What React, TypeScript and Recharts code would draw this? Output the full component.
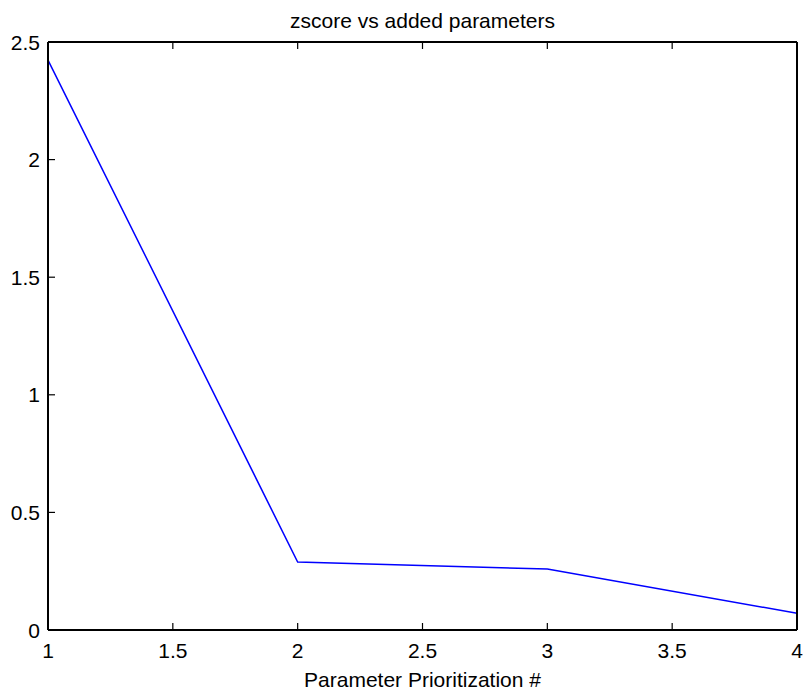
import React from "react";
import { LineChart, Line, XAxis, YAxis } from "recharts";

const paramNumbers = [1, 2, 3, 4];
const zscores = [2.423, 0.289, 0.259, 0.071];
const xTicks = [1, 1.5, 2, 2.5, 3, 3.5, 4];
const yTicks = [0, 0.5, 1, 1.5, 2, 2.5];

const data = paramNumbers.map((p, i) => ({ param: p, zscore: zscores[i] }));

const FONT = "'Liberation Sans', Arial, Helvetica, sans-serif";
const FS = 21;
const TICK = 7;

const BottomTick = ({ x, y, payload }: any) => (
  <g>
    <line x1={x} y1={y} x2={x} y2={y - TICK} stroke="#000" strokeWidth={1.2} />
    <text x={x} y={y + 28} textAnchor="middle" fontSize={FS} fontFamily={FONT} fill="#000">
      {String(payload.value)}
    </text>
  </g>
);

const TopTick = ({ x, y }: any) => (
  <line x1={x} y1={y} x2={x} y2={y + TICK} stroke="#000" strokeWidth={1.2} />
);

const LeftTick = ({ x, y, payload }: any) => (
  <g>
    <line x1={x} y1={y} x2={x + TICK} y2={y} stroke="#000" strokeWidth={1.2} />
    <text x={x - 8} y={y} dy="0.36em" textAnchor="end" fontSize={FS} fontFamily={FONT} fill="#000">
      {String(payload.value)}
    </text>
  </g>
);

const RightTick = ({ x, y }: any) => (
  <line x1={x} y1={y} x2={x - TICK} y2={y} stroke="#000" strokeWidth={1.2} />
);

export default function App() {
  const axisLine = { stroke: "#000", strokeWidth: 2 };
  return (
    <div style={{ position: "absolute", left: 0, top: 0, width: 803, height: 690, background: "#fff" }}>
      <LineChart width={803} height={690} data={data} margin={{ top: 32, right: 2, bottom: 0, left: 8 }}>
        <XAxis
          xAxisId="b"
          dataKey="param"
          type="number"
          domain={[1, 4]}
          ticks={xTicks}
          height={60}
          tickSize={0}
          tickMargin={0}
          tickLine={false}
          axisLine={axisLine}
          tick={<BottomTick />}
          interval={0}
        />
        <XAxis
          xAxisId="t"
          dataKey="param"
          type="number"
          orientation="top"
          domain={[1, 4]}
          ticks={xTicks}
          height={10}
          tickSize={0}
          tickMargin={0}
          tickLine={false}
          axisLine={axisLine}
          tick={<TopTick />}
          interval={0}
        />
        <YAxis
          yAxisId="l"
          type="number"
          domain={[0, 2.5]}
          ticks={yTicks}
          width={40}
          tickSize={0}
          tickMargin={0}
          tickLine={false}
          axisLine={axisLine}
          tick={<LeftTick />}
          interval={0}
        />
        <YAxis
          yAxisId="r"
          orientation="right"
          type="number"
          domain={[0, 2.5]}
          ticks={yTicks}
          width={4}
          tickSize={0}
          tickMargin={0}
          tickLine={false}
          axisLine={axisLine}
          tick={<RightTick />}
          interval={0}
        />
        <Line
          xAxisId="b"
          yAxisId="l"
          type="linear"
          dataKey="zscore"
          stroke="#0000ff"
          strokeWidth={1.5}
          dot={false}
          activeDot={false}
          isAnimationActive={false}
        />
      </LineChart>
      <svg
        width={803}
        height={690}
        style={{ position: "absolute", left: 0, top: 0, pointerEvents: "none" }}
      >
        <text x={422.5} y={28} textAnchor="middle" fontSize={FS} fontFamily={FONT} fill="#000">
          zscore vs added parameters
        </text>
        <text x={422.5} y={687} textAnchor="middle" fontSize={FS} fontFamily={FONT} fill="#000">
          Parameter Prioritization #
        </text>
      </svg>
    </div>
  );
}
